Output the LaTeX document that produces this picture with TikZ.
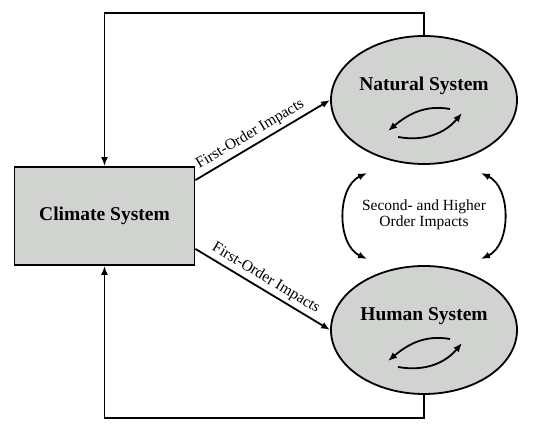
\documentclass[tikz,border=0pt]{standalone}
\usepackage{fontspec}
\setmainfont{Liberation Serif}
\usetikzlibrary{shapes.geometric,calc,arrows.meta}
\definecolor{sysGray}{HTML}{D1D3D0}

\begin{document}
\begin{tikzpicture}[x=1pt, y=1pt, >={Latex[length=9pt,width=7pt]}, line width=1.8pt]
  \useasboundingbox (0,0) rectangle (534,427);

  \tikzstyle{S}=[ellipse, draw, fill=sysGray, minimum width=186pt, minimum height=128pt, inner sep=0pt]
  \tikzstyle{C}=[rectangle, draw, fill=sysGray, minimum width=180pt, minimum height=98pt, inner sep=0pt]
  \tikzstyle{T}=[font=\fontsize{19.5}{22}\selectfont\bfseries]
  \tikzstyle{L}=[font=\fontsize{15.5}{16}\selectfont, align=center]

  \node[C, T] at (104.5,211) (climate) {Climate System};
  \node[S] at (424,327) (natural) {};
  \node[S] at (424,97) (human) {};
  \node[T] at ([yshift=14pt]natural.center) (naturaltext) {Natural System};
  \node[T] at ([yshift=14pt]human.center) (humantext) {Human System};
  \node[L] at (424,212) (second) {Second- and Higher\\Order Impacts};

  % loops inside the two systems
  \foreach \sys in {natural, human} {
    \draw[->] ($(\sys)+(26,-9)$) to[out=170, in=40] ($(\sys)+(-36,-31)$);
    \draw[->] ($(\sys)+(-26,-37)$) to[out=-10, in=230] ($(\sys)+(38,-13)$);
  }

  % feedback to the climate system
  \draw[->] (natural.north) -- ++(0,22) -| (climate.north);
  \draw[->] (human.south) -- ++(0,-23.5) -| (climate.south);

  \draw[->] ([yshift=-14pt]climate.north east) -- (natural.west)
    node[L, pos=0.45, above, sloped] (upimpact) {First-Order Impacts};
  \draw[->] ([yshift=17pt]climate.south east) -- (human.west)
    node[L, pos=0.48, above, sloped] (lowimpact) {First-Order Impacts};

  \coordinate (natL) at (367,254);
  \coordinate (humL) at (367,168);
  \coordinate (natR) at (481,254);
  \coordinate (humR) at (481,168);
  \draw[<->] (natL) to[bend right=65] (humL);
  \draw[<->] (natR) to[bend left=65] (humR);

\end{tikzpicture}
\end{document}
